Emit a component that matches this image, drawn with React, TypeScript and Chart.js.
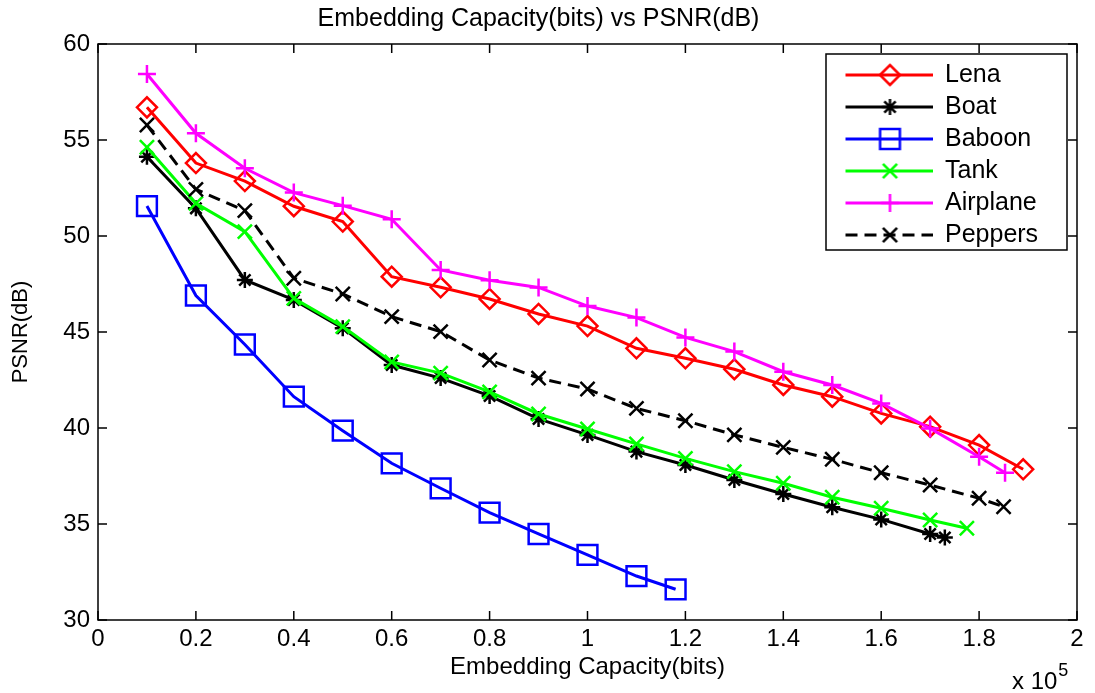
import React, { useEffect, useRef } from 'react';
import { Chart, registerables } from 'chart.js';

Chart.register(...registerables);

const FONT = "'Liberation Sans', Arial, Helvetica, sans-serif";

// ---- data (x in bits, y in dB) ----
const lenaX = [10000, 20000, 30000, 40000, 50000, 60000, 70000, 80000, 90000, 100000, 110000, 120000, 130000, 140000, 150000, 160000, 170000, 180000, 189000];
const lenaY = [56.7, 53.8, 52.86, 51.55, 50.75, 47.88, 47.33, 46.72, 45.94, 45.31, 44.15, 43.63, 43.06, 42.24, 41.63, 40.76, 40.07, 39.11, 37.85];

const boatX = [10000, 20000, 30000, 40000, 50000, 60000, 70000, 80000, 90000, 100000, 110000, 120000, 130000, 140000, 150000, 160000, 170000, 173000];
const boatY = [54.13, 51.44, 47.71, 46.67, 45.2, 43.28, 42.6, 41.67, 40.47, 39.64, 38.77, 38.07, 37.29, 36.56, 35.87, 35.24, 34.48, 34.3];

const baboonX = [10000, 20000, 30000, 40000, 50000, 60000, 70000, 80000, 90000, 100000, 110000, 118000];
const baboonY = [51.56, 46.9, 44.35, 41.63, 39.86, 38.16, 36.86, 35.59, 34.48, 33.39, 32.29, 31.6];

const tankX = [10000, 20000, 30000, 40000, 50000, 60000, 70000, 80000, 90000, 100000, 110000, 120000, 130000, 140000, 150000, 160000, 170000, 177500];
const tankY = [54.62, 51.7, 50.23, 46.75, 45.28, 43.44, 42.86, 41.88, 40.73, 39.95, 39.17, 38.42, 37.73, 37.12, 36.39, 35.82, 35.21, 34.78];

const airplaneX = [10000, 20000, 30000, 40000, 50000, 60000, 70000, 80000, 90000, 100000, 110000, 120000, 130000, 140000, 150000, 160000, 170000, 180000, 185300];
const airplaneY = [58.44, 55.35, 53.53, 52.26, 51.58, 50.87, 48.23, 47.7, 47.32, 46.35, 45.75, 44.72, 43.98, 42.93, 42.24, 41.28, 39.98, 38.5, 37.67];

const peppersX = [10000, 20000, 30000, 40000, 50000, 60000, 70000, 80000, 90000, 100000, 110000, 120000, 130000, 140000, 150000, 160000, 170000, 180000, 185000];
const peppersY = [55.78, 52.43, 51.32, 47.8, 46.98, 45.8, 45.02, 43.54, 42.6, 42.03, 41.02, 40.38, 39.64, 38.99, 38.37, 37.67, 37.03, 36.34, 35.9];

const seriesNames = ['Lena', 'Boat', 'Baboon', 'Tank', 'Airplane', 'Peppers'];
const xTickLabels = ['0', '0.2', '0.4', '0.6', '0.8', '1', '1.2', '1.4', '1.6', '1.8', '2'];
const yTickLabels = ['30', '35', '40', '45', '50', '55', '60'];

const TITLE = 'Embedding Capacity(bits) vs PSNR(dB)';
const X_LABEL = 'Embedding Capacity(bits)';
const Y_LABEL = 'PSNR(dB)';
const X_EXP_BASE = 'x 10';
const X_EXP_POWER = '5';

// ---- styles ----
const seriesColors = ['#ff0000', '#000000', '#0000ff', '#00ff00', '#ff00ff', '#000000'];
const seriesMarkers = ['rectRot', 'star', 'rect', 'crossRot', 'cross', 'crossRot'];
const seriesRadius = [10, 8, 14, 10, 9, 10];
const seriesDash: number[][] = [[], [], [], [], [], [12, 7]];

function toPoints(xs: number[], ys: number[]) {
  return xs.map((x, i) => ({ x, y: ys[i] }));
}

function drawMarker(ctx: CanvasRenderingContext2D, style: string, cx: number, cy: number, r: number) {
  ctx.beginPath();
  const d = r * Math.SQRT1_2;
  if (style === 'rectRot') {
    ctx.moveTo(cx - r, cy);
    ctx.lineTo(cx, cy - r);
    ctx.lineTo(cx + r, cy);
    ctx.lineTo(cx, cy + r);
    ctx.closePath();
  } else if (style === 'rect') {
    ctx.rect(cx - d, cy - d, 2 * d, 2 * d);
  } else if (style === 'cross' || style === 'star') {
    ctx.moveTo(cx - r, cy);
    ctx.lineTo(cx + r, cy);
    ctx.moveTo(cx, cy - r);
    ctx.lineTo(cx, cy + r);
  }
  if (style === 'crossRot' || style === 'star') {
    ctx.moveTo(cx - d, cy - d);
    ctx.lineTo(cx + d, cy + d);
    ctx.moveTo(cx - d, cy + d);
    ctx.lineTo(cx + d, cy - d);
  }
  ctx.stroke();
}

function makeLegendSample(i: number): HTMLCanvasElement {
  const c = document.createElement('canvas');
  c.width = 100;
  c.height = 30;
  const ctx = c.getContext('2d')!;
  ctx.strokeStyle = seriesColors[i];
  ctx.lineWidth = 3;
  ctx.setLineDash(seriesDash[i]);
  ctx.beginPath();
  ctx.moveTo(13, 15);
  ctx.lineTo(100, 15);
  ctx.stroke();
  ctx.setLineDash([]);
  ctx.lineWidth = 2.5;
  drawMarker(ctx, seriesMarkers[i], 57.5, 15, seriesRadius[i]);
  return c;
}

const matlabAxesPlugin = {
  id: 'matlabAxes',
  beforeDraw(chart: any) {
    const ctx = chart.ctx;
    ctx.save();
    ctx.fillStyle = '#ffffff';
    ctx.fillRect(0, 0, chart.width, chart.height);
    // legend frame
    ctx.fillRect(826, 54, 241, 196);
    ctx.strokeStyle = '#000';
    ctx.lineWidth = 1.5;
    ctx.strokeRect(826, 54, 241, 196);
    ctx.restore();
  },
  afterLayout(chart: any) {
    const lg = chart.legend;
    if (!lg) return;
    lg.left = 825.5;
    lg.top = 55.5;
    lg.right = lg.left + 240;
    lg.bottom = lg.top + 300;
    lg.width = 240;
    lg.height = 300;
  },
  afterDraw(chart: any) {
    const ctx = chart.ctx;
    const { left, right, top, bottom } = chart.chartArea;
    const xs = chart.scales.x;
    const ys = chart.scales.y;
    const tl = 9;
    ctx.save();
    ctx.strokeStyle = '#000';
    ctx.lineWidth = 1.5;
    ctx.strokeRect(left, top, right - left, bottom - top);
    ctx.beginPath();
    xs.ticks.forEach((t: any) => {
      const px = xs.getPixelForValue(t.value);
      ctx.moveTo(px, bottom);
      ctx.lineTo(px, bottom - tl);
      ctx.moveTo(px, top);
      ctx.lineTo(px, top + tl);
    });
    ys.ticks.forEach((t: any) => {
      const py = ys.getPixelForValue(t.value);
      ctx.moveTo(left, py);
      ctx.lineTo(left + tl, py);
      ctx.moveTo(right, py);
      ctx.lineTo(right - tl, py);
    });
    ctx.stroke();
    // exponent label
    ctx.fillStyle = '#000';
    ctx.textBaseline = 'alphabetic';
    ctx.textAlign = 'left';
    ctx.font = `24px ${FONT}`;
    const bx = 1012;
    ctx.fillText(X_EXP_BASE, bx, 689);
    const w = ctx.measureText(X_EXP_BASE).width;
    ctx.font = `18px ${FONT}`;
    ctx.fillText(X_EXP_POWER, bx + w + 1, 676);
    ctx.restore();
  },
};

export default function App() {
  const ref = useRef<HTMLCanvasElement | null>(null);

  useEffect(() => {
    document.body.style.margin = '0';
    const canvas = ref.current;
    if (!canvas) return;

    const xsList = [lenaX, boatX, baboonX, tankX, airplaneX, peppersX];
    const ysList = [lenaY, boatY, baboonY, tankY, airplaneY, peppersY];
    const samples = seriesNames.map((_, i) => makeLegendSample(i));

    const datasets = seriesNames.map((name, i) => ({
      label: name,
      data: toPoints(xsList[i], ysList[i]),
      borderColor: seriesColors[i],
      backgroundColor: 'rgba(0,0,0,0)',
      borderWidth: 3,
      borderDash: seriesDash[i],
      pointStyle: seriesMarkers[i],
      pointRadius: seriesRadius[i],
      pointBorderWidth: 2.5,
      pointBorderColor: seriesColors[i],
      pointBackgroundColor: 'rgba(0,0,0,0)',
      tension: 0,
      fill: false,
      order: seriesNames.length - i,
    }));

    const chart = new Chart(canvas, {
      type: 'line',
      data: { datasets },
      options: {
        responsive: false,
        animation: false,
        devicePixelRatio: 1,
        layout: { padding: { left: 0, right: 18, top: 0, bottom: 0 } },
        plugins: {
          title: {
            display: true,
            text: TITLE,
            color: '#000',
            font: { family: FONT, size: 25, weight: 'normal' },
            padding: { top: 4, bottom: 10 },
          },
          legend: {
            display: true,
            position: 'chartArea',
            align: 'start',
            labels: {
              usePointStyle: true,
              pointStyleWidth: 100,
              padding: 7,
              color: '#000',
              font: { family: FONT, size: 25 },
              generateLabels: () =>
                seriesNames.map((name, i) => ({
                  text: name,
                  pointStyle: samples[i],
                  fillStyle: 'rgba(0,0,0,0)',
                  strokeStyle: seriesColors[i],
                  lineWidth: 0,
                  hidden: false,
                  datasetIndex: i,
                  fontColor: '#000',
                })),
            },
          },
          tooltip: { enabled: false },
        },
        scales: {
          x: {
            type: 'linear',
            min: 0,
            max: 200000,
            grid: { display: false, drawTicks: false },
            border: { display: false },
            ticks: {
              stepSize: 20000,
              padding: 4.5,
              color: '#000',
              maxRotation: 0,
              autoSkip: false,
              font: { family: FONT, size: 24 },
              callback: (_v: any, idx: number) => xTickLabels[idx],
            },
            title: {
              display: true,
              text: X_LABEL,
              color: '#000',
              font: { family: FONT, size: 24 },
              padding: { top: 0, bottom: 11 },
            },
            afterFit: (scale: any) => {
              scale.height = 73;
            },
          },
          y: {
            type: 'linear',
            min: 30,
            max: 60,
            grid: { display: false, drawTicks: false },
            border: { display: false },
            ticks: {
              stepSize: 5,
              padding: 8,
              color: '#000',
              autoSkip: false,
              font: { family: FONT, size: 24 },
              callback: (_v: any, idx: number) => yTickLabels[idx],
            },
            title: {
              display: true,
              text: Y_LABEL,
              color: '#000',
              font: { family: FONT, size: 22 },
              padding: { top: 8, bottom: 0 },
            },
            afterFit: (scale: any) => {
              scale.width = 98;
            },
          },
        },
      } as any,
      plugins: [matlabAxesPlugin],
    });

    return () => {
      chart.destroy();
    };
  }, []);

  return (
    <div style={{ width: 1095, height: 693, background: '#fff' }}>
      <canvas ref={ref} width={1095} height={693} style={{ display: 'block' }} />
    </div>
  );
}
